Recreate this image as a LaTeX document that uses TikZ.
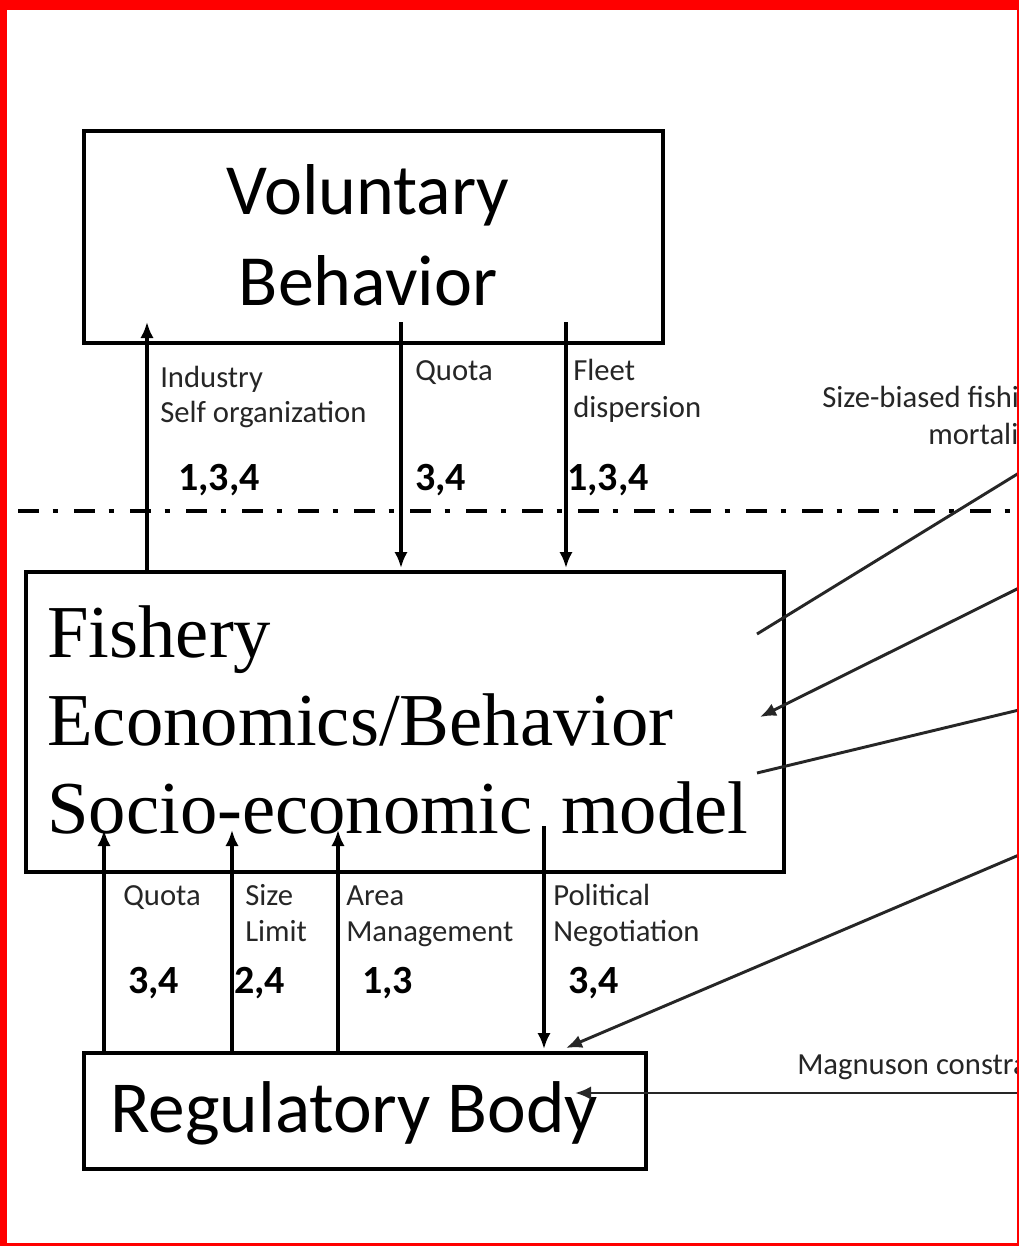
\documentclass[tikz,border=0pt]{standalone}
\usepackage{fontspec}
\setmainfont{Carlito}
\newfontfamily\timesf{Liberation Serif}
\usetikzlibrary{arrows.meta}
\tikzset{
  box/.style={draw=black, line width=2.7pt, fill=none, inner sep=0pt, anchor=north west},
  bigsans/.style={font=\fontsize{54}{60}\selectfont, inner sep=0pt, anchor=base},
  bigserif/.style={font=\timesf\fontsize{56}{62}\selectfont, inner sep=0pt, anchor=base west},
  lbl/.style={font=\fontsize{23}{25}\selectfont, inner sep=0pt, anchor=base west, text=black!85},
  num/.style={font=\bfseries\fontsize{30}{32}\selectfont, inner sep=0pt, anchor=base west},
  arr/.style={line width=2.6pt, -{Latex[length=12pt,width=10pt]}},
  sideline/.style={line width=2.2pt, draw=black!85},
  sidearr/.style={line width=2.2pt, draw=black!85, -{Latex[length=12pt,width=10pt]}},
}
\begin{document}
\begin{tikzpicture}[x=0.75pt,y=-0.75pt]
\useasboundingbox (0,0) rectangle (1019,1246);
\fill[white] (0,0) rectangle (1019,1246);
\begin{scope}
\clip (0,0) rectangle (1019,1246);
% boxes
\node[box, minimum width=434.25pt, minimum height=159pt] (vol) at (82,129) {};
\node[box, minimum width=568.5pt, minimum height=225pt] (fish) at (24,570) {};
\node[box, minimum width=421.5pt, minimum height=87pt] (reg) at (82,1051) {};
% box texts
\node[bigsans] (volA) at (368,214) {Voluntary};
\node[bigsans] (volB) at (368,305) {Behavior};
\node[bigserif] (fishA) at (47,657) {Fishery};
\node[bigserif] (fishB) at (47,745) {Economics/Behavior};
\node[bigserif] (fishC) at (47,833) {Socio-economic\hspace{8pt} model};
\node[bigsans, font=\fontsize{55}{60}\selectfont] (regA) at (354,1132) {Regulatory Body};
% dash-dot separator
\coordinate (sepL) at (18,511);
\coordinate (sepR) at (1019,511);
\draw[line width=3.5pt, dash pattern=on 16pt off 10pt on 4pt off 12pt] (sepL) -- (sepR);
% upper arrows
\coordinate (u1a) at (147,570); \coordinate (u1b) at (147,322);
\coordinate (u2a) at (401,322); \coordinate (u2b) at (401,568);
\coordinate (u3a) at (566,322); \coordinate (u3b) at (566,568);
\draw[arr] (u1a) -- (u1b);
\draw[arr] (u2a) -- (u2b);
\draw[arr] (u3a) -- (u3b);
% lower arrows
\coordinate (d1a) at (104,1051); \coordinate (d1b) at (104,830);
\coordinate (d2a) at (232,1051); \coordinate (d2b) at (232,830);
\coordinate (d3a) at (338,1051); \coordinate (d3b) at (338,830);
\coordinate (d4a) at (544,826);  \coordinate (d4b) at (544,1049);
\draw[arr] (d1a) -- (d1b);
\draw[arr] (d2a) -- (d2b);
\draw[arr] (d3a) -- (d3b);
\draw[arr] (d4a) -- (d4b);
% right side connectors
\coordinate (r1a) at (1019,473); \coordinate (r1b) at (757,634);
\coordinate (r2a) at (1019,588); \coordinate (r2b) at (760,717);
\coordinate (r3a) at (1019,710); \coordinate (r3b) at (757,773);
\coordinate (r4a) at (1019,855); \coordinate (r4b) at (566,1048);
\coordinate (r5a) at (1019,1093); \coordinate (r5b) at (575,1093);
\draw[sideline] (r1a) -- (r1b);
\draw[sidearr] (r2a) -- (r2b);
\draw[sideline] (r3a) -- (r3b);
\draw[sidearr] (r4a) -- (r4b);
\draw[sidearr] (r5a) -- (r5b);
% upper labels
\node[lbl] (l1a) at (160,387) {Industry};
\node[lbl] (l1b) at (160,422) {Self organization};
\node[num] (n1) at (178,490) {1,3,4};
\node[lbl] (l2a) at (415,380) {Quota};
\node[num] (n2) at (415,490) {3,4};
\node[lbl] (l3a) at (573,380) {Fleet};
\node[lbl] (l3b) at (573,417) {dispersion};
\node[num] (n3) at (567,490) {1,3,4};
\node[lbl] (l4a) at (822,407) {Size-biased fishing};
\node[lbl] (l4b) at (928,444) {mortality};
% lower labels
\node[lbl] (m1a) at (123,905) {Quota};
\node[num] (k1) at (128,993) {3,4};
\node[lbl] (m2a) at (245,905) {Size};
\node[lbl] (m2b) at (245,941) {Limit};
\node[num] (k2) at (234,993) {2,4};
\node[lbl] (m3a) at (346,905) {Area};
\node[lbl] (m3b) at (346,941) {Management};
\node[num] (k3) at (362,993) {1,3};
\node[lbl] (m4a) at (553,905) {Political};
\node[lbl] (m4b) at (553,941) {Negotiation};
\node[num] (k4) at (568,993) {3,4};
\node[lbl] (m5) at (797,1074) {Magnuson constraints};
\end{scope}
% red frame
\fill[red] (0,0) rectangle (1019,10);
\fill[red] (0,0) rectangle (7,1246);
\fill[red] (1016.5,0) rectangle (1019,1246);
\fill[red] (0,1243) rectangle (1019,1246);
\end{tikzpicture}
\end{document}
